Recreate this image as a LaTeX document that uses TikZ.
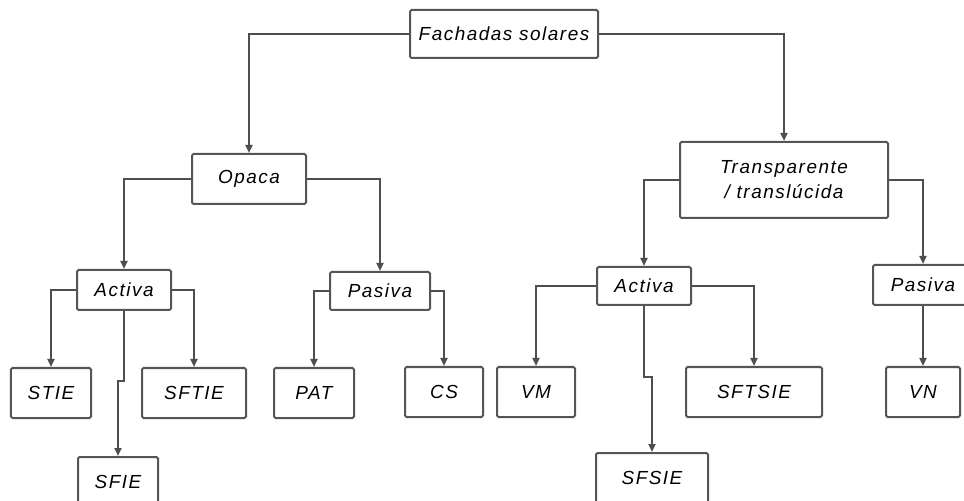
\documentclass[tikz,border=0pt]{standalone}
\usepackage{fontspec}
\newfontfamily\boxfont{Liberation Sans}[LetterSpace=8]
\usetikzlibrary{arrows.meta}
\definecolor{boxgray}{HTML}{555555}
\definecolor{linegray}{HTML}{4E4E4E}

\begin{document}
\begin{tikzpicture}[x=1bp,y=-1bp,
  box/.style={draw=boxgray, line width=2bp, rounded corners=1.5bp,
    minimum height=50bp, inner sep=0pt, align=center, text=black,
    font=\boxfont\itshape\fontsize{19}{25}\selectfont},
  conn/.style={draw=linegray, line width=2bp},
  arr/.style={conn, -{Triangle[length=8bp,width=7bp]}}]

\useasboundingbox (0,0) rectangle (964,501);
\clip (0,0) rectangle (964,501);

% root
\node[box, minimum width=188bp, minimum height=48bp] (fach) at (504,34) {Fachadas solares};

% second level
\node[box, minimum width=114bp] (opaca) at (249,179) {Opaca};
\node[box, minimum width=208bp, minimum height=76bp] (transp) at (784,180) {Transparente\\/ translúcida};

% third level
\node[box, minimum width=94bp, minimum height=40bp] (actL) at (124,290) {Activa};
\node[box, minimum width=100bp, minimum height=38bp] (pasL) at (380,291) {Pasiva};
\node[box, minimum width=94bp, minimum height=38bp] (actR) at (644,286) {Activa};
\node[box, minimum width=100bp, minimum height=40bp] (pasR) at (923,285) {Pasiva};

% leaves
\node[box, minimum width=80bp] (stie) at (51,393) {STIE};
\node[box, minimum width=104bp] (sftie) at (194,393) {SFTIE};
\node[box, minimum width=80bp] (pat) at (314,393) {PAT};
\node[box, minimum width=78bp] (cs) at (444,392) {CS};
\node[box, minimum width=78bp] (vm) at (536,392) {VM};
\node[box, minimum width=136bp] (sftsie) at (754,392) {SFTSIE};
\node[box, minimum width=74bp] (vn) at (923,392) {VN};
\node[box, minimum width=80bp] (sfie) at (118,482) {SFIE};
\node[box, minimum width=112bp] (sfsie) at (652,478) {SFSIE};

% heights of the small steps in the long drops
\coordinate (jogL) at (0,381);
\coordinate (jogR) at (0,377);

% connectors
\draw[arr] (fach.west) -| (opaca.north);
\draw[arr] (fach.east) -| (transp.north);

\draw[arr] (opaca.west) -| (actL.north);
\draw[arr] (opaca.east) -| (pasL.north);
\draw[arr] (transp.west) -| (actR.north);
\draw[arr] (transp.east) -| (pasR.north);

\draw[arr] (actL.west) -| (stie.north);
\draw[arr] (actL.east) -| (sftie.north);
\draw[arr] (actL.south) |- (sfie.north |- jogL) -- (sfie.north);

\draw[arr] (pasL.west) -| (pat.north);
\draw[arr] (pasL.east) -| (cs.north);

\draw[arr] (actR.west) -| (vm.north);
\draw[arr] (actR.east) -| (sftsie.north);
\draw[arr] (actR.south) |- (sfsie.north |- jogR) -- (sfsie.north);

\draw[arr] (pasR.south) -- (vn.north);
\end{tikzpicture}
\end{document}
